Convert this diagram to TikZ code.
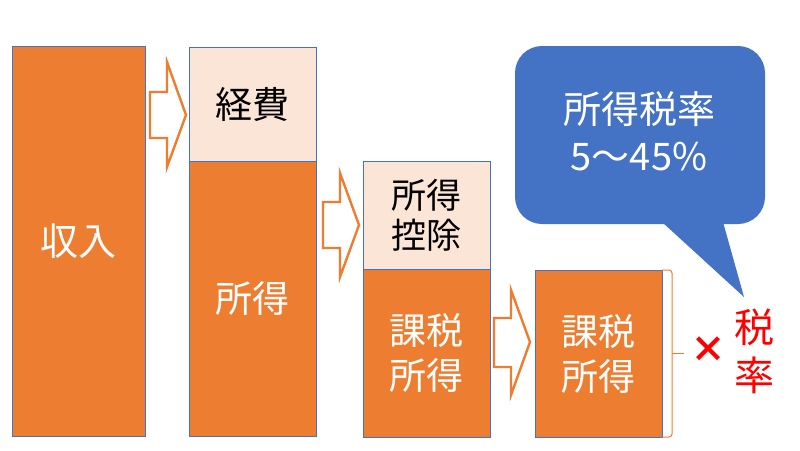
\documentclass[tikz,border=0pt]{standalone}
\usepackage{fontspec}
\setmainfont{Noto Sans CJK JP}
\definecolor{orng}{HTML}{ED7D31}
\definecolor{lite}{HTML}{FBE5D6}
\definecolor{blu}{HTML}{4472C4}
\definecolor{edge}{HTML}{4472C4}
\begin{document}
\begin{tikzpicture}[x=1pt,y=-1pt,
 box/.style={draw=edge,line width=0.7pt,inner sep=0pt,anchor=north west,align=center,font=\fontsize{37}{44}\selectfont},
 darkbox/.style={box,fill=orng,text=white},
 litebox/.style={box,fill=lite,text=black},
 blockarrow/.style={draw=orng,line width=2.4pt,fill=white,line join=miter},
 bracket/.style={draw=orng,line width=1pt},
]
\useasboundingbox[fill=white] (0,0) rectangle (800,450);
% boxes
\node[darkbox,minimum width=133,minimum height=390,font=\fontsize{38}{44}\selectfont] (income) at (12,46) {収入};
\node[litebox,minimum width=127,minimum height=114] (expense) at (189,47) {経費};
\node[darkbox,minimum width=127,minimum height=275] (shotoku) at (189,161) {所得};
\node[litebox,minimum width=127,minimum height=108,font=\fontsize{35}{40}\selectfont] (deduct) at (363,161) {所得\\控除};
\node[darkbox,minimum width=127,minimum height=168,font=\fontsize{37}{45}\selectfont] (taxable) at (363,269) {課税\\所得};
\node[darkbox,minimum width=127,minimum height=167,font=\fontsize{37}{45}\selectfont] (taxable2) at (535,270) {課税\\所得};
% block arrows
\draw[blockarrow] (150,92) -- (167,92) -- (167,62) -- (186,115) -- (167,167) -- (167,138) -- (150,138) -- cycle;
\draw[blockarrow] (323,202) -- (340,202) -- (340,173) -- (359,225) -- (340,277) -- (340,248) -- (323,248) -- cycle;
\draw[blockarrow] (494,318) -- (511,318) -- (511,290) -- (530,342) -- (511,395) -- (511,367) -- (494,367) -- cycle;
% callout
\fill[blu,rounded corners=27] (515,46) rectangle (765,224);
\fill[blu] (662,222) -- (723,222) -- (744,297) -- cycle;
\node[text=white,align=center,font=\fontsize{38}{47}\selectfont] (rate) at (639,131) {所得税率\\5～45\%};
% bracket
\coordinate (brtop) at (662,270);
\coordinate (brbot) at (662,437);
\coordinate (brmid) at (672,353);
\coordinate (brtip) at (684,353);
\draw[bracket,rounded corners=3] (brtop) -- (672,270) -- (672,437) -- (brbot);
\draw[bracket] (brmid) -- (brtip);
% multiply and rate
\node[text=red,font=\fontsize{36}{40}\selectfont\bfseries] (times) at (708,350) {×};
\node[text=red,align=center,font=\fontsize{40}{48}\selectfont] (taxrate) at (754,351) {税\\率};
\end{tikzpicture}
\end{document}
